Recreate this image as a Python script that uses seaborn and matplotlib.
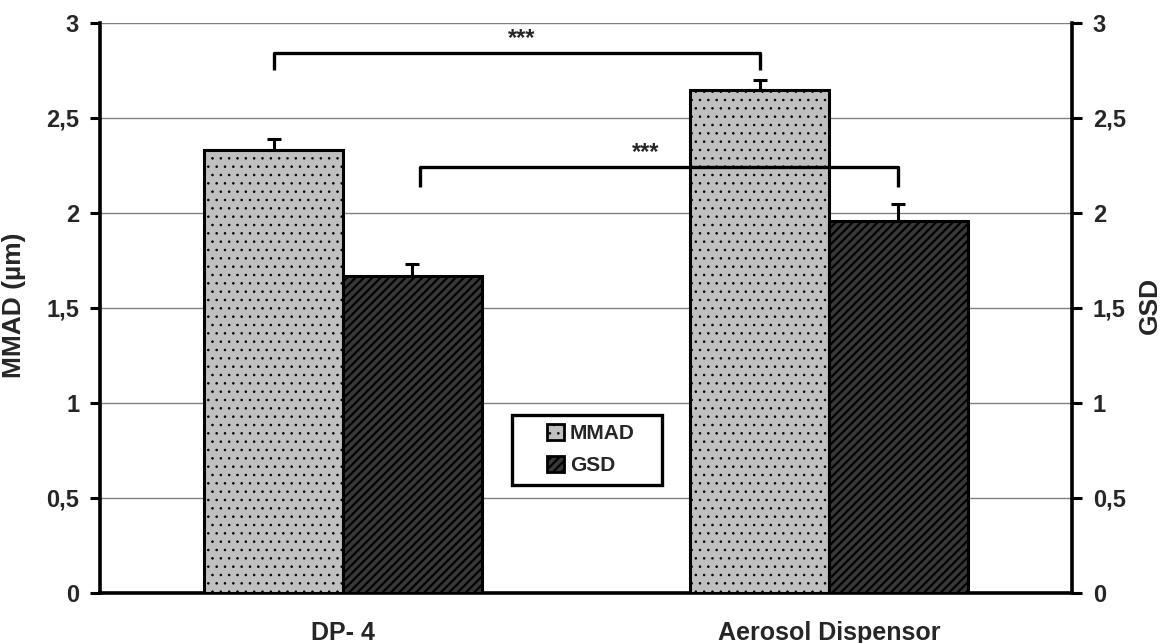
import matplotlib
matplotlib.use("Agg")
import matplotlib.pyplot as plt
from matplotlib.patches import Patch, Rectangle
import seaborn as sns
import pandas as pd
import numpy as np

# Data
devices = ["DP- 4", "Aerosol Dispensor"]
metrics = ["MMAD", "GSD"]
mmad_values = [2.33, 2.65]
gsd_values = [1.67, 1.96]
mmad_err = [0.06, 0.05]
gsd_err = [0.06, 0.09]
y_ticks = [0, 0.5, 1, 1.5, 2, 2.5, 3]
y_tick_labels = ["0", "0,5", "1", "1,5", "2", "2,5", "3"]
sig_label = "***"

sns.set_theme(style="white")
plt.rcParams["font.family"] = ["Liberation Sans", "DejaVu Sans"]
plt.rcParams["font.weight"] = "bold"
plt.rcParams["hatch.linewidth"] = 1.6

df = pd.DataFrame({
    "device": devices * 2,
    "metric": [metrics[0]] * 2 + [metrics[1]] * 2,
    "value": mmad_values + gsd_values,
    "err": mmad_err + gsd_err,
})

styles = {
    "MMAD": dict(face="#c0c0c0", hatch="..", hcolor="#505050", hlw=0.6),
    "GSD": dict(face="#383838", hatch="////", hcolor="#b4b4b4", hlw=1.6),
}

fig = plt.figure(figsize=(11.64, 6.43), dpi=100)
ax = fig.add_axes([100 / 1164, 1 - 593 / 643, 972 / 1164, 570 / 643])

group_width = 0.572
sns.barplot(data=df, x="device", y="value", hue="metric", order=devices,
            hue_order=metrics, width=group_width, dodge=True, errorbar=None,
            palette={m: styles[m]["face"] for m in metrics},
            edgecolor="black", linewidth=2.2, legend=False, ax=ax, zorder=3)

bar_w = group_width / len(metrics)
centers = {}
for j, m in enumerate(metrics):
    offs = -group_width / 2 + bar_w * (j + 0.5)
    centers[m] = [i + offs for i in range(len(devices))]


def style_patch(patch, m):
    patch.set_hatch(styles[m]["hatch"])
    try:
        patch.set_hatchcolor(styles[m]["hcolor"])
    except AttributeError:
        pass
    try:
        patch.set_hatch_linewidth(styles[m]["hlw"])
    except AttributeError:
        patch._hatch_linewidth = styles[m]["hlw"]


for patch in ax.patches:
    cx = patch.get_x() + patch.get_width() / 2
    m = metrics[0] if cx - round(cx) < 0 else metrics[1]
    style_patch(patch, m)

# Upper error bars
for m in metrics:
    vals = df[df.metric == m].set_index("device").loc[devices]
    ax.errorbar(centers[m], vals["value"], yerr=[np.zeros(len(devices)), vals["err"]],
                fmt="none", ecolor="black", elinewidth=2.2, capsize=5, capthick=2.2,
                zorder=4)


# Significance brackets
def bracket(x1, x2, y_top, y_drop, text_x):
    ax.plot([x1, x1, x2, x2], [y_drop, y_top, y_top, y_drop], color="black",
            lw=2.4, zorder=5, solid_capstyle="butt")
    ax.text(text_x, y_top + 0.015, sig_label, ha="center", va="bottom",
            fontsize=17, fontweight="bold", zorder=6)


bracket(centers["MMAD"][0], centers["MMAD"][1], 2.842, 2.753,
        (centers["MMAD"][0] + centers["MMAD"][1]) / 2 + 0.01)
bracket(centers["GSD"][0] + 0.015, centers["GSD"][1], 2.242, 2.137,
        (centers["GSD"][0] + centers["GSD"][1]) / 2 - 0.02)

# Axes and grid
ax.set_xlim(-0.5, len(devices) - 0.5)
ax.set_ylim(0, 3)
ax.set_yticks(y_ticks)
ax.set_yticklabels(y_tick_labels, fontsize=17, fontweight="bold")
ax.yaxis.grid(True, color="#808080", lw=1.0, zorder=0)
ax.set_axisbelow(True)
ax.set_xticks(range(len(devices)))
ax.set_xticklabels(devices, fontsize=18, fontweight="bold")
ax.set_xticks([-0.5, 0.5, 1.5], minor=True)
ax.tick_params(axis="x", which="major", length=0, pad=20)
ax.tick_params(axis="x", which="minor", length=8, width=2.2, color="black", direction="out")
ax.tick_params(axis="y", which="major", length=7, width=2.2, color="black",
               direction="out", pad=8, left=True)
ax.set_xlabel("")
ax.set_ylabel("MMAD (µm)", fontsize=19, fontweight="bold")
ax.yaxis.set_label_coords(-0.076, 0.505)
for side in ["left", "bottom"]:
    ax.spines[side].set_linewidth(2.6)
    ax.spines[side].set_color("black")
for side in ["top", "right"]:
    ax.spines[side].set_visible(False)

ax2 = ax.twinx()
ax2.set_ylim(0, 3)
ax2.set_yticks(y_ticks)
ax2.set_yticklabels(y_tick_labels, fontsize=17, fontweight="bold")
ax2.tick_params(axis="y", length=7, width=2.2, color="black", direction="out", pad=8, right=True)
ax2.set_ylabel("GSD", fontsize=19, fontweight="bold")
ax2.yaxis.set_label_coords(1.068, 0.505)
ax2.grid(False)
for side in ["left", "top", "bottom"]:
    ax2.spines[side].set_visible(False)
ax2.spines["right"].set_linewidth(2.6)
ax2.spines["right"].set_color("black")

# Legend with a wide square frame
handles = [Patch(facecolor=styles[m]["face"], edgecolor="black", linewidth=2,
                 hatch=styles[m]["hatch"], label=m) for m in metrics]
leg = ax.legend(handles=handles, loc="center", bbox_to_anchor=(0.505, 0.252),
                frameon=False, handlelength=0.8, handleheight=0.8,
                handletextpad=0.3, borderpad=0.2, labelspacing=0.6,
                prop={"size": 15, "weight": "bold"})
leg.set_zorder(10)
for lh, m in zip(leg.legend_handles, metrics):
    style_patch(lh, m)
ax.add_patch(Rectangle((412 / 972, 108 / 570), 150 / 972, 70 / 570,
                       transform=ax.transAxes, facecolor="white",
                       edgecolor="black", linewidth=2.4, zorder=9))

fig.savefig("out.png", dpi=100, facecolor="white")
